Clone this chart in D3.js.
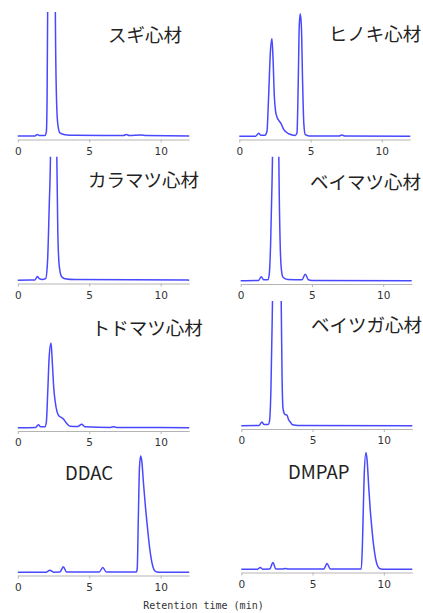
<!DOCTYPE html>
<html>
<head>
<meta charset="utf-8">
<script src="https://cdn.jsdelivr.net/npm/d3@7"></script>
<style>
  body { margin: 0; background: #fff; }
  svg { display: block; }
</style>
</head>
<body>
<div class="svg-content"></div>
<script>
// chromatogram traces: [retention time (min), relative intensity]
const sugi = [[0,0.4],[1.2,0.5],[1.37,1.6],[1.5,0.8],[1.9,0.8],[2.0,4],[2.05,30],[2.09,100],[2.15,260],[2.36,420],[2.57,260],[2.63,100],[2.7,35],[2.8,10],[2.95,3],[3.3,1.5],[4,1],[6,0.8],[7.4,0.8],[7.6,1.6],[7.8,0.9],[8.6,1.2],[9,0.8],[12,0.5]];
const hinoki = [[0,0.3],[1.15,0.3],[1.36,2.7],[1.5,1],[1.8,1],[1.94,4],[2.05,30],[2.18,68],[2.29,79],[2.37,62],[2.46,32],[2.55,20],[2.65,15.6],[2.8,12.5],[2.95,10],[3.1,6],[3.47,2.2],[3.93,0.9],[4.05,3],[4.13,40],[4.21,90],[4.28,99],[4.36,88],[4.44,45],[4.53,10],[4.63,1.5],[4.9,0.5],[7.0,0.5],[7.2,1.2],[7.4,0.5],[12,0.3]];
const karamatsu = [[0,0.3],[1.2,0.4],[1.37,3.2],[1.5,1.5],[1.7,0.8],[1.95,1.5],[2.08,15],[2.2,60],[2.3,110],[2.4,300],[2.51,420],[2.62,300],[2.72,110],[2.8,40],[2.9,12],[3.07,3],[3.3,1.5],[4,0.8],[12,0.3]];
const beimatsu = [[0,0.3],[1.25,0.5],[1.45,3.5],[1.6,1],[1.9,1],[2.0,5],[2.1,30],[2.2,80],[2.25,120],[2.33,300],[2.46,420],[2.59,300],[2.67,110],[2.75,40],[2.85,10],[2.97,3],[3.3,1.2],[4.3,1],[4.53,5.4],[4.75,1],[5,0.5],[12,0.3]];
const todomatsu = [[0,0.3],[1.25,0.5],[1.44,2.7],[1.6,1],[1.9,1],[2.0,5],[2.1,30],[2.2,58],[2.33,68.5],[2.43,50],[2.52,32],[2.61,22],[2.75,13],[2.91,9.4],[3.05,8.5],[3.19,7.3],[3.4,4],[3.66,1.4],[4.2,1.2],[4.47,3],[4.7,1],[6.5,0.5],[6.7,1],[6.9,0.5],[12,0.3]];
const beitsuga = [[0,0.3],[1.25,0.5],[1.45,3.2],[1.6,1.2],[1.88,1.2],[1.98,4],[2.08,30],[2.16,80],[2.2,110],[2.3,300],[2.5,420],[2.7,300],[2.79,110],[2.86,40],[2.93,14],[3.05,9.5],[3.21,8.6],[3.32,5],[3.44,3.2],[3.6,1],[4,0.5],[12,0.3]];
const ddac = [[0,0.2],[2.0,0.3],[2.25,1.9],[2.5,0.3],[2.95,0.4],[3.19,4.6],[3.4,0.5],[5.7,0.4],[5.95,4],[6.2,0.4],[8.3,0.5],[8.36,3],[8.44,45],[8.52,85],[8.6,94],[8.68,90],[8.8,72],[8.92,55],[9.02,43],[9.15,28],[9.3,14],[9.45,5],[9.6,1.2],[9.75,0.4],[10,0.2],[12,0.2]];
const dmpap = [[0,0.2],[1.15,0.3],[1.33,1.6],[1.5,0.3],[2.0,0.4],[2.22,5.6],[2.42,0.5],[2.9,0.4],[3.09,0.9],[3.3,0.4],[5.8,0.4],[6.01,4.8],[6.25,0.4],[8.42,0.5],[8.5,20],[8.62,75],[8.75,94.4],[8.83,88],[8.95,65],[9.05,48],[9.14,36],[9.28,20],[9.42,9],[9.56,3],[9.7,0.8],[9.9,0.3],[12,0.2]];

const titles = ["スギ心材", "ヒノキ心材", "カラマツ心材", "ベイマツ心材", "トドマツ心材", "ベイツガ心材", "DDAC", "DMPAP"];
const tickValues = [0, 5, 10];
const xLabel = "Retention time (min)";

const svgWidth = 423;
const svgHeight = 613;
const plotHeight = 124;

const svg = d3.select(".svg-content")
              .append("svg")
              .attr("width", svgWidth)
              .attr("height", svgHeight);

const panels = [
  { data: sugi,      x0: 17.8,  x1: 189.2, axisY: 139.5, clipTop: 12,  tx: 108,   ty: 34 },
  { data: hinoki,    x0: 239.3, x1: 410.3, axisY: 139.5, clipTop: 10,  tx: 328.7, ty: 33.3 },
  { data: karamatsu, x0: 17.8,  x1: 189.2, axisY: 283.5, clipTop: 156.7, tx: 88,  ty: 179.3 },
  { data: beimatsu,  x0: 240.7, x1: 411.7, axisY: 284,   clipTop: 156.7, tx: 310, ty: 180.7 },
  { data: todomatsu, x0: 17.8,  x1: 189.2, axisY: 431,   clipTop: 300, tx: 91.7,  ty: 326.7 },
  { data: beitsuga,  x0: 241.3, x1: 412.3, axisY: 429,   clipTop: 301, tx: 311,   ty: 324 },
  { data: ddac,      x0: 17.8,  x1: 189.2, axisY: 575.5, clipTop: 446, tx: 65,    ty: 472.3 },
  { data: dmpap,     x0: 241.3, x1: 412.3, axisY: 572.5, clipTop: 446, tx: 288,   ty: 470.7 }
];

panels.forEach((p, i) => {
  const baseY = p.axisY - 3;

  const xScale = d3.scaleLinear()
                   .domain([0, 12])
                   .range([p.x0, p.x1]);

  const yScale = d3.scaleLinear()
                   .domain([0, 100])
                   .range([baseY, baseY - plotHeight]);

  svg.append("clipPath")
     .attr("id", "clip" + i)
     .append("rect")
     .attr("x", p.x0 - 2)
     .attr("y", p.clipTop)
     .attr("width", p.x1 - p.x0 + 4)
     .attr("height", baseY - p.clipTop + 2);

  const g = svg.append("g");

  const xAxis = d3.axisBottom(xScale)
                  .tickValues(tickValues)
                  .tickSize(3)
                  .tickSizeOuter(0)
                  .tickPadding(5);

  const ax = g.append("g")
              .attr("transform", "translate(0," + p.axisY + ")")
              .call(xAxis);
  ax.select(".domain").attr("stroke", "#b4b4b4");
  ax.selectAll(".tick line").attr("stroke", "#b4b4b4");
  ax.selectAll(".tick text")
    .attr("fill", "#333")
    .style("font-family", "'DejaVu Sans', sans-serif")
    .style("font-size", "10.5px");

  const line = d3.line()
                 .x(d => xScale(d[0]))
                 .y(d => yScale(d[1]))
                 .curve(d3.curveMonotoneX);

  g.append("path")
   .datum(p.data)
   .attr("clip-path", "url(#clip" + i + ")")
   .attr("fill", "none")
   .attr("stroke", "#4848ff")
   .attr("stroke-width", 1.5)
   .attr("d", line);

  g.append("text")
   .attr("x", p.tx)
   .attr("y", p.ty)
   .attr("dominant-baseline", "central")
   .attr("fill", "#222")
   .style("font-family", "'Noto Sans CJK JP', 'Noto Sans', sans-serif")
   .style("font-size", "18.5px")
   .text(titles[i]);
});

svg.append("text")
   .attr("x", 203.5)
   .attr("y", 605)
   .attr("text-anchor", "middle")
   .attr("dominant-baseline", "central")
   .attr("fill", "#333")
   .style("font-family", "'DejaVu Sans Mono', monospace")
   .style("font-size", "10px")
   .text(xLabel);
</script>
</body>
</html>
